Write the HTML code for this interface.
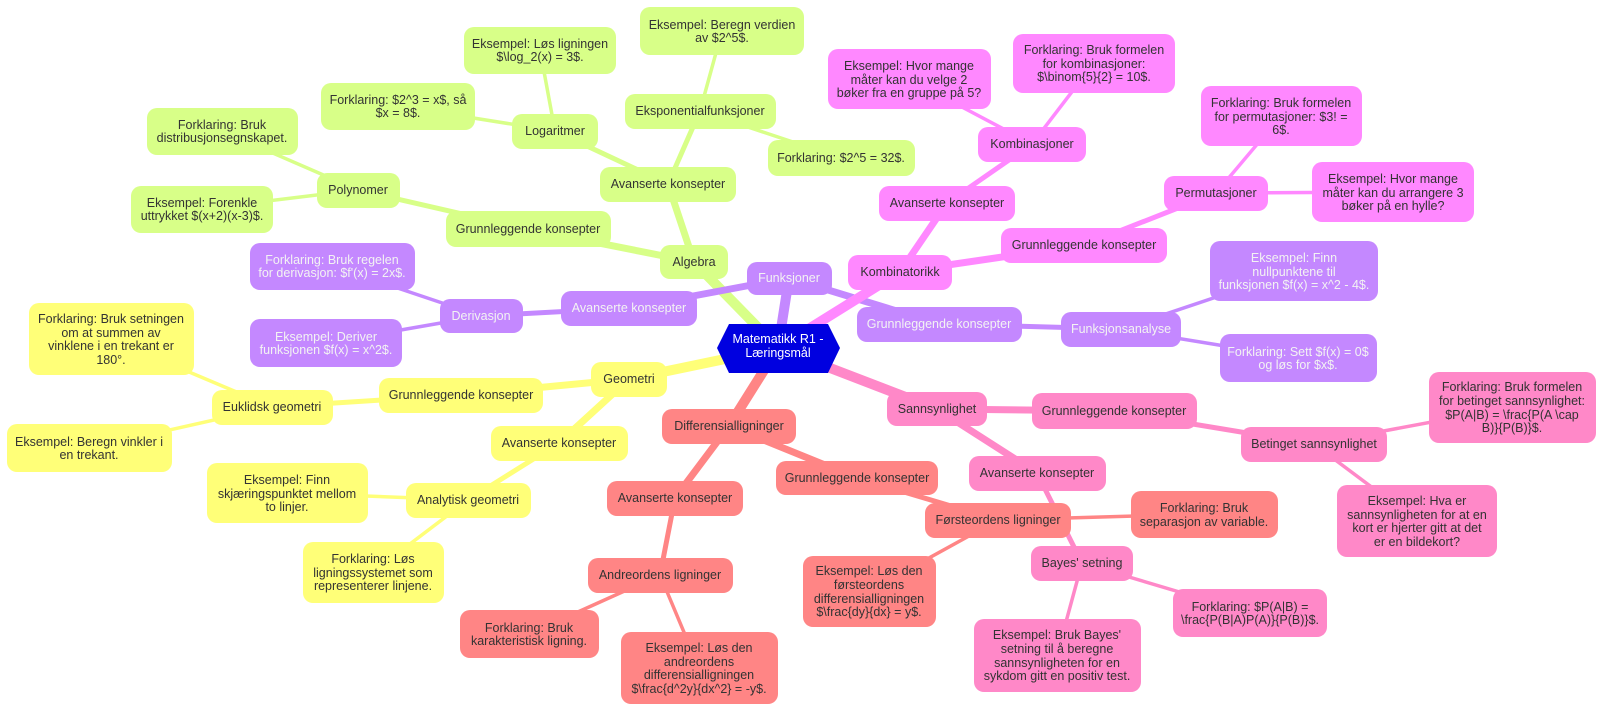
<!DOCTYPE html>
<html><head><meta charset="utf-8"><style>
html,body{margin:0;padding:0;background:#fff;}
svg{display:block;}
text{font-family:"Liberation Sans",sans-serif;font-size:12.5px;text-anchor:middle;fill:#333;}
.w text{fill:#f3f3f3;}
</style></head><body>
<svg width="1600" height="712" viewBox="0 0 1600 712" xmlns="http://www.w3.org/2000/svg">
<g stroke-linecap="round" fill="none">
<g stroke="#d8ff88">
<line x1="778" y1="348" x2="694" y2="262" stroke-width="10"/>
<line x1="694" y1="262" x2="528" y2="229" stroke-width="7"/>
<line x1="694" y1="262" x2="668" y2="184" stroke-width="7"/>
<line x1="528" y1="229" x2="358" y2="190" stroke-width="5"/>
<line x1="358" y1="190" x2="222" y2="131" stroke-width="3.5"/>
<line x1="358" y1="190" x2="202" y2="209" stroke-width="3.5"/>
<line x1="668" y1="184" x2="555" y2="131" stroke-width="5"/>
<line x1="668" y1="184" x2="700" y2="111" stroke-width="5"/>
<line x1="555" y1="131" x2="398" y2="106" stroke-width="3.5"/>
<line x1="555" y1="131" x2="540" y2="50" stroke-width="3.5"/>
<line x1="700" y1="111" x2="722" y2="31" stroke-width="3.5"/>
<line x1="700" y1="111" x2="841" y2="158" stroke-width="3.5"/>
</g>
<g stroke="#c488ff">
<line x1="778" y1="348" x2="789" y2="278" stroke-width="10"/>
<line x1="789" y1="278" x2="629" y2="308" stroke-width="7"/>
<line x1="789" y1="278" x2="939" y2="324" stroke-width="7"/>
<line x1="629" y1="308" x2="481" y2="316" stroke-width="5"/>
<line x1="481" y1="316" x2="332" y2="266" stroke-width="3.5"/>
<line x1="481" y1="316" x2="326" y2="343" stroke-width="3.5"/>
<line x1="939" y1="324" x2="1121" y2="329" stroke-width="5"/>
<line x1="1121" y1="329" x2="1294" y2="271" stroke-width="3.5"/>
<line x1="1121" y1="329" x2="1298" y2="358" stroke-width="3.5"/>
</g>
<g stroke="#ff88ff">
<line x1="778" y1="348" x2="900" y2="272" stroke-width="10"/>
<line x1="900" y1="272" x2="947" y2="203" stroke-width="7"/>
<line x1="900" y1="272" x2="1084" y2="245" stroke-width="7"/>
<line x1="947" y1="203" x2="1032" y2="144" stroke-width="5"/>
<line x1="1032" y1="144" x2="909" y2="79" stroke-width="3.5"/>
<line x1="1032" y1="144" x2="1094" y2="63" stroke-width="3.5"/>
<line x1="1084" y1="245" x2="1216" y2="193" stroke-width="5"/>
<line x1="1216" y1="193" x2="1281" y2="116" stroke-width="3.5"/>
<line x1="1216" y1="193" x2="1393" y2="192" stroke-width="3.5"/>
</g>
<g stroke="#ffff78">
<line x1="778" y1="348" x2="629" y2="379" stroke-width="10"/>
<line x1="629" y1="379" x2="461" y2="395" stroke-width="7"/>
<line x1="629" y1="379" x2="559" y2="443" stroke-width="7"/>
<line x1="461" y1="395" x2="272" y2="407" stroke-width="5"/>
<line x1="272" y1="407" x2="111" y2="339" stroke-width="3.5"/>
<line x1="272" y1="407" x2="89" y2="448" stroke-width="3.5"/>
<line x1="559" y1="443" x2="468" y2="500" stroke-width="5"/>
<line x1="468" y1="500" x2="287" y2="493" stroke-width="3.5"/>
<line x1="468" y1="500" x2="373" y2="572" stroke-width="3.5"/>
</g>
<g stroke="#ff8585">
<line x1="778" y1="348" x2="729" y2="426" stroke-width="10"/>
<line x1="729" y1="426" x2="675" y2="498" stroke-width="7"/>
<line x1="729" y1="426" x2="857" y2="478" stroke-width="7"/>
<line x1="675" y1="498" x2="660" y2="575" stroke-width="5"/>
<line x1="660" y1="575" x2="529" y2="634" stroke-width="3.5"/>
<line x1="660" y1="575" x2="699" y2="668" stroke-width="3.5"/>
<line x1="857" y1="478" x2="998" y2="520" stroke-width="5"/>
<line x1="998" y1="520" x2="1204" y2="514" stroke-width="3.5"/>
<line x1="998" y1="520" x2="869" y2="591" stroke-width="3.5"/>
</g>
<g stroke="#ff88c8">
<line x1="778" y1="348" x2="937" y2="409" stroke-width="10"/>
<line x1="937" y1="409" x2="1114" y2="411" stroke-width="7"/>
<line x1="937" y1="409" x2="1037" y2="473" stroke-width="7"/>
<line x1="1114" y1="411" x2="1314" y2="444" stroke-width="5"/>
<line x1="1314" y1="444" x2="1512" y2="407" stroke-width="3.5"/>
<line x1="1314" y1="444" x2="1417" y2="521" stroke-width="3.5"/>
<line x1="1037" y1="473" x2="1082" y2="563" stroke-width="5"/>
<line x1="1082" y1="563" x2="1250" y2="613" stroke-width="3.5"/>
<line x1="1082" y1="563" x2="1057" y2="655" stroke-width="3.5"/>
</g>
</g>

<g fill="#d8ff88">
<rect x="660" y="245" width="68" height="34" rx="10"/>
<rect x="446" y="211" width="165" height="36" rx="10"/>
<rect x="317" y="173" width="83" height="35" rx="10"/>
<rect x="147" y="108" width="151" height="47" rx="10"/>
<rect x="131" y="186" width="142" height="47" rx="10"/>
<rect x="600" y="167" width="136" height="35" rx="10"/>
<rect x="512" y="114" width="86" height="35" rx="10"/>
<rect x="321" y="83" width="154" height="47" rx="10"/>
<rect x="464" y="27" width="152" height="47" rx="10"/>
<rect x="625" y="94" width="151" height="35" rx="10"/>
<rect x="640" y="7" width="164" height="48" rx="10"/>
<rect x="768" y="140" width="147" height="36" rx="10"/>
</g>
<text x="694" y="266">Algebra</text>
<text x="528" y="233">Grunnleggende konsepter</text>
<text x="358" y="194">Polynomer</text>
<text x="222" y="129">Forklaring: Bruk</text><text x="222" y="142">distribusjonsegnskapet.</text>
<text x="202" y="207">Eksempel: Forenkle</text><text x="202" y="220">uttrykket $(x+2)(x-3)$.</text>
<text x="668" y="188">Avanserte konsepter</text>
<text x="555" y="135">Logaritmer</text>
<text x="398" y="104">Forklaring: $2^3 = x$, så</text><text x="398" y="117">$x = 8$.</text>
<text x="540" y="48">Eksempel: Løs ligningen</text><text x="540" y="61">$\log_2(x) = 3$.</text>
<text x="700" y="115">Eksponentialfunksjoner</text>
<text x="722" y="29">Eksempel: Beregn verdien</text><text x="722" y="42">av $2^5$.</text>
<text x="841" y="162">Forklaring: $2^5 = 32$.</text>

<g class="w">
<g fill="#c488ff">
<rect x="747" y="262" width="85" height="33" rx="10"/>
<rect x="561" y="291" width="136" height="35" rx="10"/>
<rect x="440" y="299" width="83" height="34" rx="10"/>
<rect x="250" y="243" width="165" height="47" rx="10"/>
<rect x="250" y="319" width="152" height="48" rx="10"/>
<rect x="857" y="307" width="165" height="35" rx="10"/>
<rect x="1061" y="312" width="120" height="35" rx="10"/>
<rect x="1210" y="241" width="168" height="60" rx="10"/>
<rect x="1220" y="334" width="157" height="48" rx="10"/>
</g>
<text x="789" y="282">Funksjoner</text>
<text x="629" y="312">Avanserte konsepter</text>
<text x="481" y="320">Derivasjon</text>
<text x="332" y="264">Forklaring: Bruk regelen</text><text x="332" y="277">for derivasjon: $f'(x) = 2x$.</text>
<text x="326" y="341">Eksempel: Deriver</text><text x="326" y="354">funksjonen $f(x) = x^2$.</text>
<text x="939" y="328">Grunnleggende konsepter</text>
<text x="1121" y="333">Funksjonsanalyse</text>
<text x="1294" y="262">Eksempel: Finn</text><text x="1294" y="276">nullpunktene til</text><text x="1294" y="289">funksjonen $f(x) = x^2 - 4$.</text>
<text x="1298" y="356">Forklaring: Sett $f(x) = 0$</text><text x="1298" y="369">og løs for $x$.</text>
</g>

<g fill="#ff88ff">
<rect x="848" y="255" width="104" height="35" rx="10"/>
<rect x="879" y="186" width="136" height="35" rx="10"/>
<rect x="978" y="127" width="108" height="35" rx="10"/>
<rect x="828" y="49" width="163" height="60" rx="10"/>
<rect x="1013" y="34" width="162" height="59" rx="10"/>
<rect x="1001" y="228" width="166" height="35" rx="10"/>
<rect x="1164" y="176" width="104" height="35" rx="10"/>
<rect x="1201" y="86" width="161" height="60" rx="10"/>
<rect x="1312" y="162" width="162" height="60" rx="10"/>
</g>
<text x="900" y="276">Kombinatorikk</text>
<text x="947" y="207">Avanserte konsepter</text>
<text x="1032" y="148">Kombinasjoner</text>
<text x="909" y="70">Eksempel: Hvor mange</text><text x="909" y="84">måter kan du velge 2</text><text x="909" y="97">bøker fra en gruppe på 5?</text>
<text x="1094" y="54">Forklaring: Bruk formelen</text><text x="1094" y="68">for kombinasjoner:</text><text x="1094" y="81">$\binom{5}{2} = 10$.</text>
<text x="1084" y="249">Grunnleggende konsepter</text>
<text x="1216" y="197">Permutasjoner</text>
<text x="1281" y="107">Forklaring: Bruk formelen</text><text x="1281" y="121">for permutasjoner: $3! =</text><text x="1281" y="134">6$.</text>
<text x="1393" y="183">Eksempel: Hvor mange</text><text x="1393" y="197">måter kan du arrangere 3</text><text x="1393" y="210">bøker på en hylle?</text>

<g fill="#ffff78">
<rect x="591" y="362" width="76" height="35" rx="10"/>
<rect x="379" y="378" width="164" height="35" rx="10"/>
<rect x="212" y="390" width="121" height="35" rx="10"/>
<rect x="29" y="303" width="165" height="72" rx="10"/>
<rect x="7" y="424" width="165" height="48" rx="10"/>
<rect x="491" y="426" width="137" height="35" rx="10"/>
<rect x="406" y="483" width="125" height="35" rx="10"/>
<rect x="207" y="463" width="161" height="60" rx="10"/>
<rect x="303" y="542" width="141" height="61" rx="10"/>
</g>
<text x="629" y="383">Geometri</text>
<text x="461" y="399">Grunnleggende konsepter</text>
<text x="272" y="411">Euklidsk geometri</text>
<text x="111" y="323">Forklaring: Bruk setningen</text><text x="111" y="337">om at summen av</text><text x="111" y="350">vinklene i en trekant er</text><text x="111" y="364">180°.</text>
<text x="89" y="446">Eksempel: Beregn vinkler i</text><text x="89" y="459">en trekant.</text>
<text x="559" y="447">Avanserte konsepter</text>
<text x="468" y="504">Analytisk geometri</text>
<text x="287" y="484">Eksempel: Finn</text><text x="287" y="498">skjæringspunktet mellom</text><text x="287" y="511">to linjer.</text>
<text x="373" y="563">Forklaring: Løs</text><text x="373" y="577">ligningssystemet som</text><text x="373" y="590">representerer linjene.</text>

<g fill="#ff8585">
<rect x="662" y="409" width="134" height="35" rx="10"/>
<rect x="607" y="481" width="136" height="35" rx="10"/>
<rect x="588" y="558" width="145" height="35" rx="10"/>
<rect x="460" y="610" width="139" height="48" rx="10"/>
<rect x="621" y="632" width="157" height="72" rx="10"/>
<rect x="776" y="461" width="162" height="34" rx="10"/>
<rect x="925" y="503" width="146" height="35" rx="10"/>
<rect x="1131" y="491" width="147" height="47" rx="10"/>
<rect x="803" y="556" width="133" height="71" rx="10"/>
</g>
<text x="729" y="430">Differensialligninger</text>
<text x="675" y="502">Avanserte konsepter</text>
<text x="660" y="579">Andreordens ligninger</text>
<text x="529" y="632">Forklaring: Bruk</text><text x="529" y="645">karakteristisk ligning.</text>
<text x="699" y="652">Eksempel: Løs den</text><text x="699" y="666">andreordens</text><text x="699" y="679">differensialligningen</text><text x="699" y="693">$\frac{d^2y}{dx^2} = -y$.</text>
<text x="857" y="482">Grunnleggende konsepter</text>
<text x="998" y="524">Førsteordens ligninger</text>
<text x="1204" y="512">Forklaring: Bruk</text><text x="1204" y="526">separasjon av variable.</text>
<text x="869" y="575">Eksempel: Løs den</text><text x="869" y="589">førsteordens</text><text x="869" y="603">differensialligningen</text><text x="869" y="616">$\frac{dy}{dx} = y$.</text>

<g fill="#ff88c8">
<rect x="887" y="392" width="100" height="34" rx="10"/>
<rect x="1032" y="393" width="165" height="36" rx="10"/>
<rect x="1241" y="427" width="146" height="35" rx="10"/>
<rect x="1429" y="372" width="167" height="71" rx="10"/>
<rect x="1337" y="485" width="160" height="72" rx="10"/>
<rect x="969" y="456" width="137" height="35" rx="10"/>
<rect x="1031" y="546" width="102" height="35" rx="10"/>
<rect x="1173" y="589" width="154" height="48" rx="10"/>
<rect x="974" y="619" width="167" height="73" rx="10"/>
</g>
<text x="937" y="413">Sannsynlighet</text>
<text x="1114" y="415">Grunnleggende konsepter</text>
<text x="1314" y="448">Betinget sannsynlighet</text>
<text x="1512" y="391">Forklaring: Bruk formelen</text><text x="1512" y="405">for betinget sannsynlighet:</text><text x="1512" y="419">$P(A|B) = \frac{P(A \cap</text><text x="1512" y="432">B)}{P(B)}$.</text>
<text x="1417" y="505">Eksempel: Hva er</text><text x="1417" y="519">sannsynligheten for at en</text><text x="1417" y="532">kort er hjerter gitt at det</text><text x="1417" y="546">er en bildekort?</text>
<text x="1037" y="477">Avanserte konsepter</text>
<text x="1082" y="567">Bayes' setning</text>
<text x="1250" y="611">Forklaring: $P(A|B) =</text><text x="1250" y="624">\frac{P(B|A)P(A)}{P(B)}$.</text>
<text x="1057" y="639">Eksempel: Bruk Bayes'</text><text x="1057" y="653">setning til å beregne</text><text x="1057" y="667">sannsynligheten for en</text><text x="1057" y="680">sykdom gitt en positiv test.</text>

<polygon points="717,348 729,324 828,324 840,348 828,373 729,373" fill="#0000e0"/>
<text x="778" y="343" style="fill:#fff">Matematikk R1 -</text>
<text x="778" y="357" style="fill:#fff">Læringsmål</text>
</svg>
</body></html>
